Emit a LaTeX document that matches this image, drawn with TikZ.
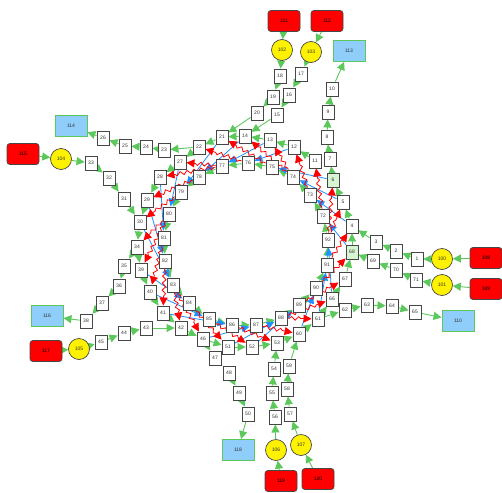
\documentclass[tikz,border=0pt]{standalone}
\usepackage{fontspec}
\setsansfont{Liberation Sans}
\usetikzlibrary{arrows.meta,decorations.pathmorphing}
\pgfdeclarelayer{bg}
\pgfsetlayers{bg,main}
\definecolor{gline}{RGB}{90,200,90}
\definecolor{bline}{RGB}{30,144,255}
\definecolor{rline}{RGB}{255,0,0}
\definecolor{sky}{RGB}{143,205,250}
\definecolor{lgreen}{RGB}{215,245,210}
\definecolor{bord}{RGB}{70,70,70}
\tikzset{
  lbl/.style={font=\sffamily\fontsize{5}{6}\selectfont, text=black!80},
  bx/.style={lbl, rectangle, draw=bord, fill=white, line width=0.9pt, minimum width=12pt, minimum height=14pt, inner sep=0pt},
  gbx/.style={bx, fill=lgreen},
  yc/.style={lbl, circle, draw=bord, fill=yellow, line width=0.7pt, minimum size=21pt, inner sep=0pt},
  rr/.style={lbl, rectangle, rounded corners=3pt, draw=bord, fill=red, line width=0.8pt, minimum width=32pt, minimum height=21pt, inner sep=0pt, text=black},
  bl/.style={lbl, rectangle, draw=gline, fill=sky, line width=0.9pt, minimum width=32pt, minimum height=21pt, inner sep=0pt},
  ge/.style={draw=gline, line width=0.9pt, -{Triangle[length=8pt,width=8pt]}, color=gline},
  be/.style={draw=bline, line width=0.8pt, -{Triangle[length=8pt,width=7pt]}, color=bline},
  re/.style={draw=rline, line width=0.8pt, color=rline, -{Triangle[length=8pt,width=8pt]},
    decorate, decoration={snake, amplitude=1.8pt, segment length=7pt, pre length=2pt, post length=8pt}},
}
\begin{document}
\begin{tikzpicture}[x=1pt,y=-1pt]
\useasboundingbox (0,0) rectangle (502,492);
% small boxes
\foreach \n/\x/\y in {1/417/259, 2/396/251, 3/376/242, 4/352/226, 5/343/202, 7/330/159, 8/327/137, 9/328/112, 10/332/89, 11/315/161, 12/294/147, 13/270/140, 14/245/136, 15/277/115, 16/289/95, 17/301/74, 18/280/76, 19/273/97, 20/257/113, 21/222/137, 22/199/147, 23/164/150, 24/146/147, 25/125/146, 26/103/138, 27/180/162, 28/160/177, 29/147/200, 30/140/222, 31/124/199, 32/109/178, 33/91/163, 34/137/247, 35/124/266, 36/119/286, 37/102/303, 38/86/321, 39/141/270, 40/150/292, 41/163/313, 42/181/328, 43/146/328, 44/124/333, 45/101/342, 46/203/339, 47/215/358, 48/229/373, 49/239/393, 50/248/414, 51/228/347, 52/252/347, 53/277/343, 54/274/369, 55/272/393, 56/275/417, 57/290/414, 58/287/389, 59/289/366, 60/299/334, 61/318/319, 62/345/310, 63/367/305, 64/392/306, 65/415/312, 66/332/299, 67/345/279, 69/373/261, 70/396/270, 71/416/280, 72/323/216, 73/310/195, 74/293/177, 75/272/167, 76/248/163, 77/222/166, 78/199/177, 79/181/192, 80/169/214, 81/164/238, 82/165/261, 83/173/285, 84/189/303, 85/209/319, 86/232/325, 87/256/325, 88/281/318, 89/299/305, 90/316/288, 91/327/265, 92/328/240}
  \node[bx] (n\n) at (\x,\y) {\n};
\node[gbx] (n6) at (333,180) {6};
\node[gbx] (n68) at (352,252) {68};
% yellow circles
\foreach \n/\x/\y in {100/442/259, 101/442/285, 102/282/50, 103/311/52, 104/61/159, 105/79/349, 106/276/450, 107/301/445}
  \node[yc] (n\n) at (\x,\y) {\n};
% red sources
\foreach \n/\x/\y in {108/486/258, 109/486/289, 111/284/21, 112/327/21, 115/23/154, 117/46/351, 119/281/481, 120/318/479}
  \node[rr] (n\n) at (\x,\y) {\n};
% blue sinks
\foreach \n/\x/\y in {110/458/321, 113/349/51, 114/71/126, 116/47/316, 118/238/450}
  \node[bl] (n\n) at (\x,\y) {\n};
\begin{pgfonlayer}{bg}
% green edges
\foreach \a/\b in {111/102, 112/103, 102/18, 103/17, 18/19, 17/16, 19/20, 16/15, 20/21, 15/14, 13/14, 12/13, 11/12, 14/21, 21/22, 22/23, 23/24, 24/25, 25/26, 26/114, 115/104, 104/33, 33/32, 32/31, 31/30, 29/30, 28/29, 22/27, 27/28, 30/34, 34/35, 34/39, 35/36, 36/37, 37/38, 38/116, 39/40, 40/41, 41/42, 117/105, 105/45, 45/44, 44/43, 43/42, 42/46, 46/51, 46/47, 47/48, 48/49, 49/50, 50/118, 51/52, 52/53, 54/53, 55/54, 56/55, 106/56, 119/106, 120/107, 107/57, 57/58, 58/59, 59/60, 53/60, 60/61, 61/66, 61/62, 62/63, 63/64, 64/65, 65/110, 66/67, 67/68, 69/68, 70/69, 71/70, 101/71, 109/101, 108/100, 100/1, 1/2, 2/3, 3/4, 68/4, 4/5, 5/6, 6/7, 7/8, 8/9, 9/10, 10/113,
  75/76, 76/77, 77/78, 78/79, 79/80, 80/81, 81/82, 82/83, 83/84, 84/85, 85/86, 86/87, 87/88, 88/89, 89/90, 90/91, 91/92, 92/72, 72/73, 73/74, 74/75}
  \draw[ge] (n\a) -- (n\b);
% blue edges
\foreach \a/\b in {6/75, 12/76, 13/77, 14/78, 21/79, 27/80, 28/81, 29/82, 30/83, 39/84, 40/85, 41/86, 46/87, 51/88, 52/89, 60/90, 61/91, 66/92, 68/72, 4/73, 5/74}
  \draw[be] (n\a) -- (n\b);
% red wavy edges
\foreach \a/\b in {73/12, 74/13, 74/14, 75/21, 76/22, 77/27, 77/28, 78/29, 79/30, 80/34, 80/39, 81/40, 82/41, 83/42, 83/46, 84/51, 85/52, 86/53, 87/60, 88/61, 88/66, 89/67, 90/68, 91/4, 92/5, 92/6, 72/11}
  \draw[re] (n\a) -- (n\b);
\end{pgfonlayer}
\end{tikzpicture}
\end{document}
